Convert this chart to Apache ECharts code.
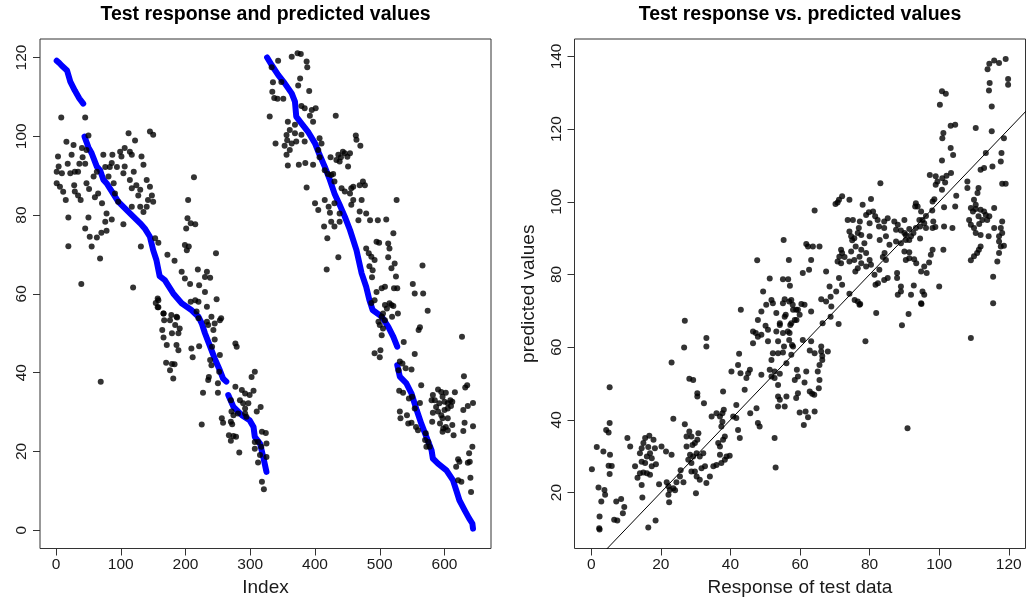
<!DOCTYPE html>
<html>
<head>
<meta charset="utf-8">
<title>Test response and predicted values</title>
<script src="https://cdn.jsdelivr.net/npm/echarts@6/dist/echarts.min.js"></script>
<style>
  html, body { margin: 0; padding: 0; background: #fff; }
  #chart { width: 1028px; height: 603px; }
</style>
</head>
<body>
<div id="chart"></div>
<script>
// tick labels
const indexTicks = [0, 100, 200, 300, 400, 500, 600];
const leftValueTicks = [0, 20, 40, 60, 80, 100, 120];
const responseTicks = [0, 20, 40, 60, 80, 100, 120];
const predictedTicks = [20, 40, 60, 80, 100, 120, 140];

// blue: sorted test response, read along the band (index, value)
const blueSeg1a = [[1, 119.2], [5, 118.6], [9, 117.9], [17, 116.7], [22, 113.9], [29, 111.6], [36, 109.6], [42, 108.3]];
const blueSeg1b = [[44, 99.9], [50, 97.2], [55, 95.7], [63, 92.3], [68, 91.4], [73, 89], [78, 88.1], [88, 85.5], [96, 83.4], [101, 82.6],
  [117, 80], [130, 77.9], [137, 76.6], [145, 74.5], [150, 71.1], [155, 68.6], [160, 64.5], [168, 63.5], [181, 60.1], [194, 57.6],
  [209, 55.9], [220, 54.2], [225, 52.5], [230, 50], [238, 46.6], [245, 43.6], [253, 40.6], [258, 38.5], [263, 37.7]];
const blueSeg1c = [[266, 34.3], [274, 31.3], [287, 29.2], [299, 27.9], [305, 26.2], [307, 23.7], [315, 22], [320, 18.6], [325, 14.8]];
const blueSeg2a = [[326, 120], [333, 118.1], [343, 115.6], [353, 113.5], [364, 110.9], [369, 108.8], [371, 105], [379, 103.3], [389, 101.2],
  [400, 98.2], [407, 95.3], [415, 92.3], [423, 88.9], [430, 85.5], [438, 82.6], [446, 79.6], [454, 76.2], [464, 71.1], [472, 65.2],
  [479, 61.8], [484, 58.4], [489, 55.9], [503, 54.2], [513, 51.7], [521, 49.1], [527, 46.6]];
const blueSeg2b = [[527, 41.9], [531, 39], [541, 37.3], [549, 34.7], [557, 30.5], [564, 27.1], [572, 23.7], [580, 20.3], [582, 18.2],
  [590, 16.9], [603, 15.2], [613, 12.7], [618, 10.2], [623, 7.6], [631, 5.1], [638, 3], [643, 1.7], [644, 0.4]];
const blueSegments = [blueSeg1a, blueSeg1b, blueSeg1c, blueSeg2a, blueSeg2b];

// black: predicted values by index
const leftPoints = [
  [8, 104.8], [45, 104.8], [50, 100.2], [16, 98.6], [27, 97.8], [24, 95.3], [3, 94.9], [4, 92.3], [1, 91], [9, 90.6], [18, 93], [22, 90.6],
  [29, 91], [34, 91], [36, 93], [41, 94.7], [45, 93], [47, 96.5], [40, 97], [1, 88.1], [6, 87.2], [11, 85.9], [15, 83.8], [28, 87.6],
  [29, 86], [34, 85], [38, 83.8], [19, 79.4], [47, 88.1], [51, 86.6], [58, 89.8], [63, 91], [60, 84.5], [65, 85.5], [71, 83], [78, 80.4],
  [50, 79.4], [45, 76.6], [52, 74.5], [55, 72], [63, 74.3], [70, 75.5], [78, 76], [76, 78.3], [86, 78.9], [19, 72.1], [68, 69], [39, 62.5],
  [73, 95.3], [76, 92.2], [86, 93.2], [87, 95.3], [94, 92.2], [99, 96.1], [101, 94.9], [106, 97], [112, 100.8], [114, 96.1], [117, 95.3],
  [122, 98.9], [83, 92.2], [81, 89.8], [89, 88.1], [91, 85.5], [96, 83.4], [104, 90.6], [106, 92.3], [114, 88.9], [120, 91], [117, 86.8],
  [124, 87.6], [130, 86.4], [127, 85], [132, 94.9], [135, 92.8], [117, 82.1], [130, 82.1], [135, 80.8], [140, 82.1], [140, 88.9],
  [145, 87.2], [148, 85], [150, 83.4], [142, 83.8], [145, 101.2], [150, 100.4], [104, 77.7], [131, 72], [119, 61.6], [153, 74.1],
  [158, 73], [172, 69.9], [183, 68.4], [199, 72.4], [202, 71.1], [205, 72], [213, 89.6], [204, 83.8], [203, 79.2], [208, 77.9],
  [201, 76.6], [215, 77.7], [247, 70.3], [219, 66.2], [233, 65.6], [230, 64.3], [238, 64.1], [194, 65.6], [199, 63.9], [207, 62.5],
  [221, 62.2], [230, 60.5], [215, 58.4], [233, 56.7], [157, 58.8], [154, 57.7], [158, 56.6], [166, 55], [178, 54.6], [186, 54.2],
  [240, 54.2], [248, 58.6], [255, 53.8],
  [343, 119.2], [364, 120.2], [373, 121.1], [378, 120.9], [387, 119], [388, 117.5], [333, 117.5], [348, 113.8], [335, 113.7],
  [334, 111.3], [337, 109.7], [342, 109.5], [351, 109.5], [377, 114.7], [374, 112.9], [391, 111.5], [330, 105], [379, 107.7],
  [384, 107.1], [395, 106.7], [401, 107.1], [392, 105.2], [397, 103.7], [432, 105.2], [358, 103.7], [361, 101.6], [369, 102.9],
  [356, 100.3], [357, 99], [364, 98.2], [369, 100.8], [379, 100.4], [339, 98.2], [353, 97.6], [361, 96.5], [356, 95.3], [371, 98.7],
  [384, 98.7], [407, 99.5], [410, 98.2], [405, 96.5], [358, 92.6], [375, 92.8], [385, 93.2], [397, 92.8], [407, 94.7], [424, 94.7],
  [433, 94], [440, 94.7], [415, 91.4], [420, 90.4], [428, 90.4], [430, 88.5], [387, 87], [400, 83], [405, 81.3], [415, 83.8],
  [421, 82.1], [423, 80.6], [430, 83], [438, 80.4], [438, 78.3], [414, 77.1], [419, 74.1], [436, 69.3], [418, 66.2],
  [425, 90.2], [436, 95.3], [438, 93.6], [443, 96.1], [446, 95.7], [450, 94.8], [454, 95.7], [451, 92.3], [463, 100.2], [464, 99.1],
  [470, 97.6], [441, 86.8], [446, 86], [454, 85.5], [456, 86.8], [459, 87.2], [469, 87.6], [474, 88.5], [477, 87.6], [472, 83.8],
  [459, 83.8], [456, 82.6], [469, 80.9], [479, 80.4], [467, 78.7], [485, 78.7], [497, 78.7], [510, 78.9], [425, 78.3], [430, 77.1],
  [479, 71.5], [483, 70.3], [487, 69.4], [484, 67], [492, 68.6], [489, 66], [488, 64.2], [495, 73.2], [499, 73], [513, 72.8],
  [515, 71.5], [513, 69.3], [521, 75.4], [518, 66.5], [523, 67.7], [525, 64.4], [522, 61.4], [527, 61.4], [503, 61.4], [508, 61.8],
  [515, 57.6], [518, 57.2], [521, 56.9], [528, 55], [511, 56.3], [495, 60.5], [492, 58.4], [551, 62.5], [554, 60.1], [567, 60.1],
  [566, 67.2], [574, 55.7], [526, 83.8], [505, 55], [519, 54.2],
  [487, 57.7], [508, 57.2], [503, 54.2], [498, 52.9], [508, 53.3], [500, 52.1], [505, 51.2], [503, 49.5], [492, 44.9], [501, 45.7],
  [500, 43.9], [537, 47.8], [554, 44.7], [562, 51.5], [560, 50.8], [627, 49.1], [531, 42.8], [535, 42.3], [540, 41.1], [549, 40.8],
  [529, 40.6], [564, 36.8], [630, 39.1], [635, 36.8], [632, 36.2], [530, 35.4], [536, 34.9], [545, 33.4], [550, 33.9], [562, 32.3],
  [554, 30.9], [531, 30.1], [532, 28.4], [542, 29.2], [544, 27.1], [549, 27.3], [556, 26.2], [559, 25.4], [571, 24.6], [570, 22.9],
  [575, 22.4], [572, 21.2], [577, 21.2], [580, 33], [582, 34.3], [585, 33], [590, 35.7], [595, 35.1], [587, 31.3], [592, 32.2],
  [597, 33.9], [600, 32.6], [605, 32.2], [609, 33], [612, 32.6], [602, 34.9], [616, 35], [582, 29.8], [590, 30.1], [595, 29.2],
  [600, 30.5], [605, 30.9], [610, 31.5], [597, 28.4], [605, 28.4], [581, 27.5], [593, 27.1], [598, 25.8], [602, 26.2], [597, 25],
  [605, 25.4], [612, 26.7], [614, 24.1], [629, 30.5], [636, 31.5], [644, 32.3], [631, 27.3], [644, 26.4], [629, 25.2], [643, 21.2],
  [638, 19.5], [636, 17.1], [621, 18], [618, 16.1], [623, 17.4], [621, 12.7], [626, 12.3], [639, 17.4], [640, 13.3], [641, 9.7],
  [158, 58.4], [157, 56.6], [166, 55], [167, 53.3], [176, 53.3], [187, 54], [184, 52.1], [191, 51.2], [189, 50], [179, 50], [164, 50.8],
  [166, 48.9], [171, 47], [186, 47], [189, 45.7], [170, 42.5], [176, 40.6], [179, 42.2], [183, 42.1], [181, 38.5], [208, 58], [220, 58],
  [217, 55.5], [220, 53.8], [233, 52.9], [235, 52.1], [245, 52.5], [253, 53.3], [243, 50.8], [209, 46.1], [211, 43.9], [221, 46.7],
  [241, 46.6], [245, 48.4], [253, 44.5], [238, 43.2], [240, 41.9], [252, 40.2], [236, 38.9], [235, 38.1], [250, 37.3], [277, 47.4],
  [279, 46.6], [307, 40.2], [302, 38.9], [227, 34.9], [250, 34.9], [277, 36.4], [287, 35.6], [292, 34.7], [299, 34.3], [305, 35.4],
  [270, 33], [284, 33], [289, 32.2], [297, 32.2], [292, 30.9], [271, 30.1], [274, 29.2], [281, 29.6], [292, 29.6], [294, 28.8],
  [316, 31.3], [310, 30.1], [256, 28.4], [258, 27.3], [270, 27.5], [272, 26.9], [225, 26.8], [267, 24.1], [274, 23.9], [278, 23.7],
  [270, 22.7], [307, 22.4], [312, 22.4], [318, 25], [324, 24.7], [325, 22], [307, 20.7], [317, 21.2], [315, 19.1], [325, 18.6],
  [312, 17.2], [283, 19.7], [318, 12.3], [321, 10.4], [69, 37.7]
];

// right panel: response of test data vs predicted values
const rightPoints = [
  [0.2, 26.4], [1.6, 32.5], [2.1, 21.4], [2.4, 13.4], [2.3, 10.2], [2.4, 9.8], [2.9, 17.5], [3.5, 31.3], [3.8, 20.7], [4, 19.4],
  [4.3, 37.2], [5, 36.5], [5.3, 39.1], [5.3, 49], [5.4, 30.4], [5, 27.4], [5.9, 27.3], [5.3, 25.1], [6.6, 12.5], [7.5, 12.3],
  [7.2, 17.5], [8.6, 18.2], [9.5, 16], [9.1, 14.3], [10.4, 35], [11.2, 32.7], [12.6, 27.2], [13.3, 24.1], [14, 25.3], [14.5, 22.1],
  [14.7, 18.6], [14, 30.8], [14.5, 32.2], [15, 33.6], [15.5, 35], [14.5, 28.5], [15.5, 28.1], [16, 29.9], [16.9, 30.8], [16.4, 32.5],
  [16.7, 35.6], [17.9, 34.5], [18.3, 32.2], [17.4, 29.4], [17.4, 27.2], [16, 25.3], [16.9, 24.9], [15, 25.5], [18.6, 27.8],
  [16.4, 10.4], [18.5, 12.3], [19.5, 22.3], [20.2, 32.7], [21.5, 31.3], [23.1, 30.4], [21.7, 22.8], [22.2, 21.7], [22.6, 20.7],
  [22.2, 19.4], [22.4, 17.3], [23.6, 21.2], [24.1, 20.6], [24.5, 22.8], [25.5, 24.4], [25.7, 26.1], [26.5, 22.8], [23.1, 55.8],
  [23.6, 40.3], [26.9, 67.3], [26.7, 59.9], [26.9, 38.8], [27.4, 35.4], [28.2, 36.8], [28.8, 35.4], [29.1, 33.1], [27.4, 32.7],
  [29.8, 33.6], [30.5, 34.5], [30.8, 36.3], [28.4, 30.4], [29.3, 29.9], [30.3, 30.8], [27.9, 29], [28.8, 28.1], [31.2, 29.9],
  [32.2, 30.8], [28.2, 51.3], [29.3, 51], [30.5, 47.3], [30.5, 46.4], [32.4, 44.6], [33.1, 62.5], [33.1, 60.2], [28.8, 25.8],
  [29.8, 25.8], [30.3, 24.4], [31.2, 23.5], [31.7, 26.7], [32.7, 27.2], [30.1, 19.8], [33.1, 22.6], [34.1, 24.4], [34.6, 40.9],
  [35.1, 27.2], [36, 27.6], [36.5, 33.6], [37, 32.7], [36, 41.8], [37, 40.9], [37.7, 41.8], [38.1, 42.8], [37.7, 39.5], [37.4, 38.2],
  [37.9, 47.8], [37, 30.4], [37.4, 28.1], [38.4, 29], [38.9, 29.9], [37.9, 34.5], [38.4, 35.4], [39.8, 30.1], [40.3, 53.3],
  [40.8, 40.9], [41.7, 40.5], [41.7, 44.1], [42.2, 37.2], [42.7, 35], [42.2, 55.1], [42.9, 52.8], [42.5, 58.2], [43, 70.3],
  [44.1, 48.3], [44.6, 51.5], [45.1, 52.8], [45.6, 53.8], [45.7, 41.8], [46.5, 61.1], [46.5, 64.3], [47.3, 63.9], [47.9, 62.9],
  [47.5, 43.2], [47.9, 39.1], [48.4, 38.2], [47.9, 67.5], [48.9, 63.4], [48.9, 69.8], [50.1, 65.9], [50.8, 64.8], [50.3, 71.7],
  [50.8, 61.6], [48.9, 52.4], [47.7, 83.9], [49.4, 75.3],
  [53.2, 69.4], [54.2, 66.6], [55.1, 72.1], [58, 70.3], [52.2, 72.1], [58.5, 67.5], [57.2, 66.1], [57, 63.9], [58, 60.2],
  [55.3, 89.5], [56.8, 84], [61.8, 88.4], [62.3, 87.7], [63.7, 87.7], [65.6, 87.7], [63.2, 84], [62.6, 81.3], [60.8, 80.4],
  [55.1, 78.7], [56.6, 78.7], [57.1, 76.9], [51.3, 78.9], [51.8, 73], [55.6, 73.2], [56.9, 72.6], [57.9, 71.7], [58.9, 70.3],
  [61.3, 71.7], [63.2, 69.8], [55.9, 68.9],
  [57.5, 73], [60.4, 71.9], [59.4, 70.3], [59.9, 68.9], [59, 67.5], [57.5, 66.6], [56.5, 64.3], [54.2, 66.1], [55.6, 68.4],
  [55.1, 63.9], [53.2, 64.3], [53.7, 61.6], [55.4, 60.2], [56.9, 62], [57.7, 60.6], [52.2, 58.3], [53.7, 58.3], [55.1, 58.5],
  [57.5, 57.9], [51.8, 56.5], [56.1, 55.6], [51.3, 53.8], [52.7, 53.3], [54.2, 52.7], [51.8, 51.9], [52.7, 51.5], [53.7, 49.6],
  [53.7, 46.4], [54.2, 45.5], [56.1, 46.4], [53.7, 43.7], [55.6, 43.7], [52.7, 35], [53, 26.9], [60.8, 62], [63.2, 61.6],
  [64.2, 58.3], [66.1, 60.2], [66.1, 58.8], [68, 58.8], [66.4, 57.6], [66.4, 56.5], [65.6, 55.1], [65.1, 53.3], [65.6, 51],
  [65.4, 48.7], [62.8, 59.1], [59.1, 53.8], [58.5, 51], [59.4, 51.9], [61.3, 50.3], [61.8, 53.3], [62.8, 47.8], [63.5, 47.2],
  [64.1, 46.9], [59.4, 47.3], [58.9, 46], [59.9, 42], [61.6, 42.3], [62.3, 40.7], [61.1, 38.6], [64.2, 42.3], [66.5, 66.6],
  [68.8, 68.4], [71.1, 66.4], [76.6, 72.6], [77.3, 71.9], [89.3, 66], [94.9, 71.9], [78.8, 61.6], [109.1, 62.5], [90.9, 37.7],
  [72.1, 101.5], [71.2, 100.6], [70.8, 99.8], [70.2, 99.4], [74.2, 100.6], [80.4, 100.8], [78, 99.2], [64.2, 97.6], [73.7, 95],
  [75.2, 95], [77.2, 94.6], [76.9, 92.8], [74.2, 91.8], [74.7, 90.5], [75.6, 90], [76.6, 91.4], [79, 96.4], [79.8, 97.1], [81, 97.3],
  [81.6, 96], [82.3, 95], [80, 94.1], [82.7, 93.2], [84.2, 94.6], [85.2, 95.5], [84.2, 92.8], [87.1, 94.6], [88.1, 93.7], [87.6, 92.3],
  [89, 92.1], [90, 91.4], [90.4, 90.9], [91.4, 89.5], [93.1, 98.7], [77.6, 90.9], [80, 90.5], [82.9, 89.5], [84.7, 90.5], [85.7, 88.2],
  [87.6, 89.1], [89, 88.6], [91.4, 86.1], [90, 86.3], [84.3, 85.9], [83.8, 84.8], [84.7, 84], [75, 89.4], [76, 87.7], [74.7, 86.3],
  [75.6, 84], [74.2, 83.6], [71.8, 86.8], [72.1, 85.9], [72.8, 84.8], [71.3, 84.9], [70.8, 83.6], [71.8, 83.1], [77.6, 86.8],
  [78.5, 88.6], [79, 85.9], [77.1, 84.9], [77.6, 83.1], [79, 82.2], [80, 84], [80.4, 82.7], [76.6, 81.7], [75.9, 80.8], [81.4, 79.9],
  [81.7, 77.2], [82.4, 77.6], [84.2, 78.5], [85.2, 79], [87.9, 80.4], [87.9, 79], [89, 76.7], [89, 75.3], [88.1, 74.4], [90.4, 84],
  [91.4, 84.5], [92.8, 84.2], [82.8, 81.3], [71.2, 79], [72.1, 77.2], [74.2, 74.7], [70.4, 75.3], [67.5, 80.8], [68.5, 76.7],
  [68.8, 73.9], [67.5, 72.6], [66.1, 73.2], [69, 71.2], [75.7, 73], [77.1, 71.7], [81.9, 69.4], [91.2, 69.1],
  [119.1, 139.3], [117.2, 138.2], [115.8, 138.9], [114.4, 138], [113.9, 136.5], [119.8, 133.8], [119.8, 132.2], [114.5, 132.7],
  [114.3, 130.6], [115.1, 126.2], [100.8, 130.4], [101.9, 129.7], [100.2, 126.7], [103.3, 120.9], [104.6, 121.2], [101.2, 118.9],
  [100.9, 117.5], [110.5, 120.3], [115.1, 119.4], [118.6, 117.5], [103.3, 114.8], [104, 112.9], [100.8, 111.4], [113.4, 113.4],
  [117.9, 113.4], [117.7, 111.1], [115.3, 109.7], [112.9, 109.3], [111.9, 108.8], [97.3, 107.4], [99, 107], [99.5, 105.6],
  [100.9, 106.5], [102.1, 107.2], [103.4, 107.9], [101.7, 105.3], [99, 104.7], [100.8, 103.3], [83.1, 105.1], [108.1, 105.6],
  [108.1, 103.8], [111.3, 103.8], [111, 102.4], [118.1, 105], [119.1, 105], [98.6, 100.7], [98.1, 100.1], [104.9, 101.7],
  [104.6, 98.7], [101.4, 98.5], [98, 97.6], [93.3, 99.6], [93.8, 98.7], [94.8, 97.3], [110, 100.6], [110.5, 99.2], [109.1, 98.3],
  [109.7, 97.3], [110.5, 98], [111.9, 97.8], [112.9, 97.3], [113.4, 96.4], [114.4, 96], [115.8, 98.3], [111.3, 96], [112.4, 95],
  [113.8, 95], [108.6, 95], [109.1, 93.7], [110, 92.8], [111.5, 93.9], [110.5, 91.4], [111.9, 90.9], [114.2, 90.5], [118.1, 94.6],
  [115.8, 92.8], [117.7, 92.8], [118.1, 91.4], [117.2, 90.5], [117.2, 89.1], [117.7, 87.7], [118.6, 87.9], [117.2, 85.9],
  [116.7, 83.6], [111.9, 87.7], [111.4, 86.8], [110.9, 85.9], [110, 85], [109.1, 83.9], [115.5, 79.4], [115.5, 72.1], [98.3, 94.6],
  [98.1, 92.8], [98.9, 93.1], [101.4, 93.2], [103.8, 92.8], [96.2, 96.1], [95.2, 95], [95.7, 94.1], [96.2, 92.8], [94.3, 95],
  [94.5, 93.2], [93.3, 92.8], [92.6, 91.4], [91.9, 90.5], [91.4, 92.5], [90.4, 89.5], [90, 95], [94.5, 89.9], [98.1, 86.8],
  [101.2, 86.8], [97.6, 85.4], [97.1, 83.3], [95.7, 82.2], [96.4, 80.4], [94.8, 80.8], [100, 76.7], [95.2, 75.3], [95.7, 74.4],
  [94.8, 72.1], [92.7, 77], [91.9, 74.4], [93.4, 83.1]
];

// abline(0, 1)
const identityLine = [[-10, -10], [130, 130]];

const fontFamily = '"Liberation Sans", Arial, Helvetica, sans-serif';
const textColor = '#1a1a1a';

function makeAxis(gridIndex, min, max, ticks, isY, name, nameGap) {
  return {
    type: 'value',
    gridIndex: gridIndex,
    min: min,
    max: max,
    name: name,
    nameLocation: 'middle',
    nameGap: nameGap,
    nameTextStyle: { fontSize: 19, color: textColor, fontFamily: fontFamily },
    axisLine: { show: false, onZero: false },
    splitLine: { show: false },
    axisTick: { show: true, inside: false, length: 7, customValues: ticks, lineStyle: { color: '#333', width: 1 } },
    axisLabel: {
      show: true,
      customValues: ticks,
      margin: isY ? 10 : 8,
      rotate: isY ? 90 : 0,
      fontSize: 15.5,
      color: textColor,
      fontFamily: fontFamily
    }
  };
}

const chart = echarts.init(document.getElementById('chart'), null, { renderer: 'canvas' });

const blueSeries = blueSegments.map(function (seg) {
  return {
    type: 'line',
    xAxisIndex: 0,
    yAxisIndex: 0,
    data: seg,
    symbol: 'none',
    clip: true,
    lineStyle: { color: '#0000ff', width: 6, cap: 'round', join: 'round' },
    z: 2
  };
});

chart.setOption({
  animation: false,
  backgroundColor: '#ffffff',
  title: [
    {
      text: 'Test response and predicted values',
      left: 265.5,
      top: 5,
      textAlign: 'center',
      padding: 0,
      textStyle: { fontSize: 19.5, fontWeight: 'bold', color: '#000', fontFamily: fontFamily }
    },
    {
      text: 'Test response vs. predicted values',
      left: 800,
      top: 5,
      textAlign: 'center',
      padding: 0,
      textStyle: { fontSize: 19.5, fontWeight: 'bold', color: '#000', fontFamily: fontFamily }
    }
  ],
  grid: [
    { left: 40, top: 39, width: 451, height: 509.5, show: true, borderColor: '#333', borderWidth: 1, backgroundColor: 'transparent' },
    { left: 574.5, top: 39, width: 451, height: 509.5, show: true, borderColor: '#333', borderWidth: 1, backgroundColor: 'transparent' }
  ],
  xAxis: [
    makeAxis(0, -24.8, 671.8, indexTicks, false, 'Index', 30),
    makeAxis(1, -4.8, 124.8, responseTicks, false, 'Response of test data', 30)
  ],
  yAxis: [
    makeAxis(0, -4.65, 124.7, leftValueTicks, true, '', 0),
    makeAxis(1, 4.6, 144.8, predictedTicks, true, 'predicted values', 36)
  ],
  series: blueSeries.concat([
    {
      type: 'scatter',
      xAxisIndex: 0,
      yAxisIndex: 0,
      data: leftPoints,
      symbol: 'circle',
      symbolSize: 6,
      itemStyle: { color: '#000' },
      z: 3
    },
    {
      type: 'scatter',
      xAxisIndex: 1,
      yAxisIndex: 1,
      data: rightPoints,
      symbol: 'circle',
      symbolSize: 6,
      itemStyle: { color: '#000' },
      z: 3
    },
    {
      type: 'line',
      xAxisIndex: 1,
      yAxisIndex: 1,
      data: identityLine,
      symbol: 'none',
      clip: true,
      lineStyle: { color: '#000', width: 1 },
      z: 4
    }
  ])
});
</script>
</body>
</html>
